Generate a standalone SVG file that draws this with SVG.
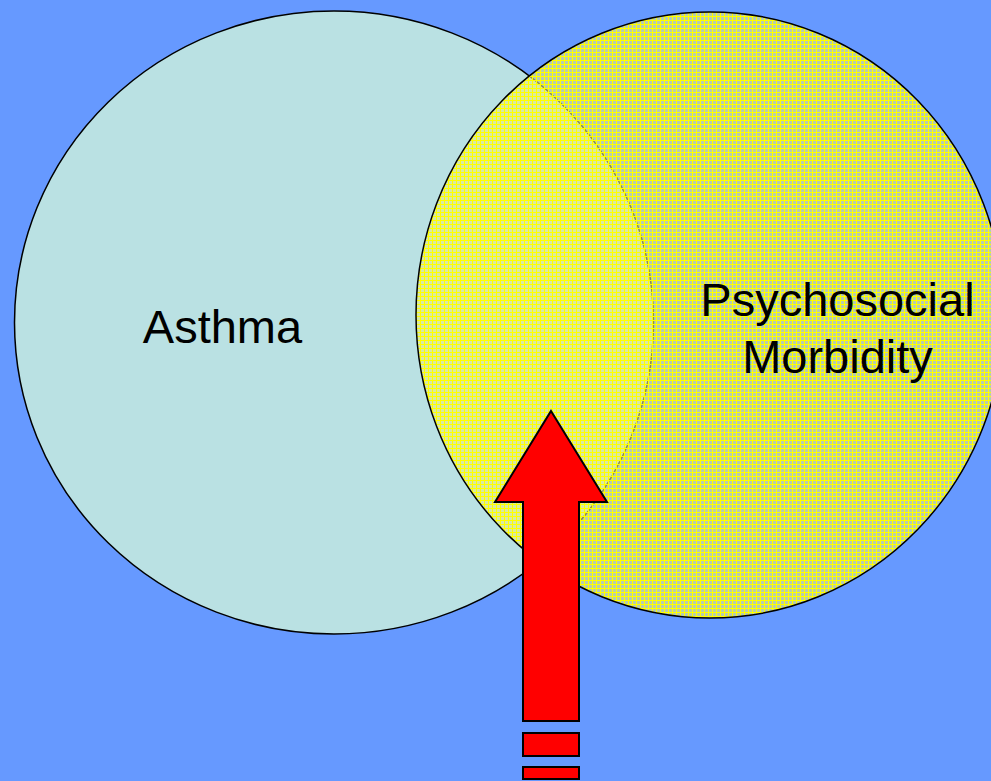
<svg xmlns="http://www.w3.org/2000/svg" width="991" height="781" viewBox="0 0 991 781">
  <style>
    .outline { stroke: #000000; stroke-width: 1.5; }
    .label { font-family: "Liberation Sans", Arial, sans-serif; font-size: 47px; fill: #000000; text-anchor: middle; }
    .red { fill: #FF0000; stroke: #000000; stroke-width: 2; stroke-linejoin: miter; }
  </style>
  <defs>
    <pattern id="yellowTex" x="0" y="0" width="4" height="4" patternUnits="userSpaceOnUse">
      <rect x="0" y="0" width="4" height="4" fill="#ECEF7A" fill-opacity="0.6"/>
      <rect x="0" y="0" width="4" height="1" fill="#FFFF00"/>
      <rect x="0" y="0" width="1" height="4" fill="#FFFF00"/>
    </pattern>
  </defs>
  <rect x="0" y="0" width="991" height="781" fill="#6699FF"/>
  <g id="asthma">
    <ellipse cx="334" cy="322.5" rx="319.5" ry="311.5" fill="#BAE1E3" class="outline"/>
  </g>
  <g id="psychosocial-morbidity">
    <ellipse cx="710" cy="315" rx="294" ry="303" fill="url(#yellowTex)" class="outline"/>
  </g>
  <g id="asthma-label">
    <text class="label" x="222.5" y="343">Asthma</text>
  </g>
  <g id="psychosocial-label">
    <text class="label" x="837.5" y="316">Psychosocial</text>
    <text class="label" x="837.5" y="373">Morbidity</text>
  </g>
  <g id="connectors">
    <polygon class="red" points="551,411 607,502 579,502 579,721 523,721 523,502 495,502"/>
    <rect class="red" x="523" y="733" width="56" height="23"/>
    <rect class="red" x="523" y="767" width="56" height="12"/>
  </g>
</svg>
